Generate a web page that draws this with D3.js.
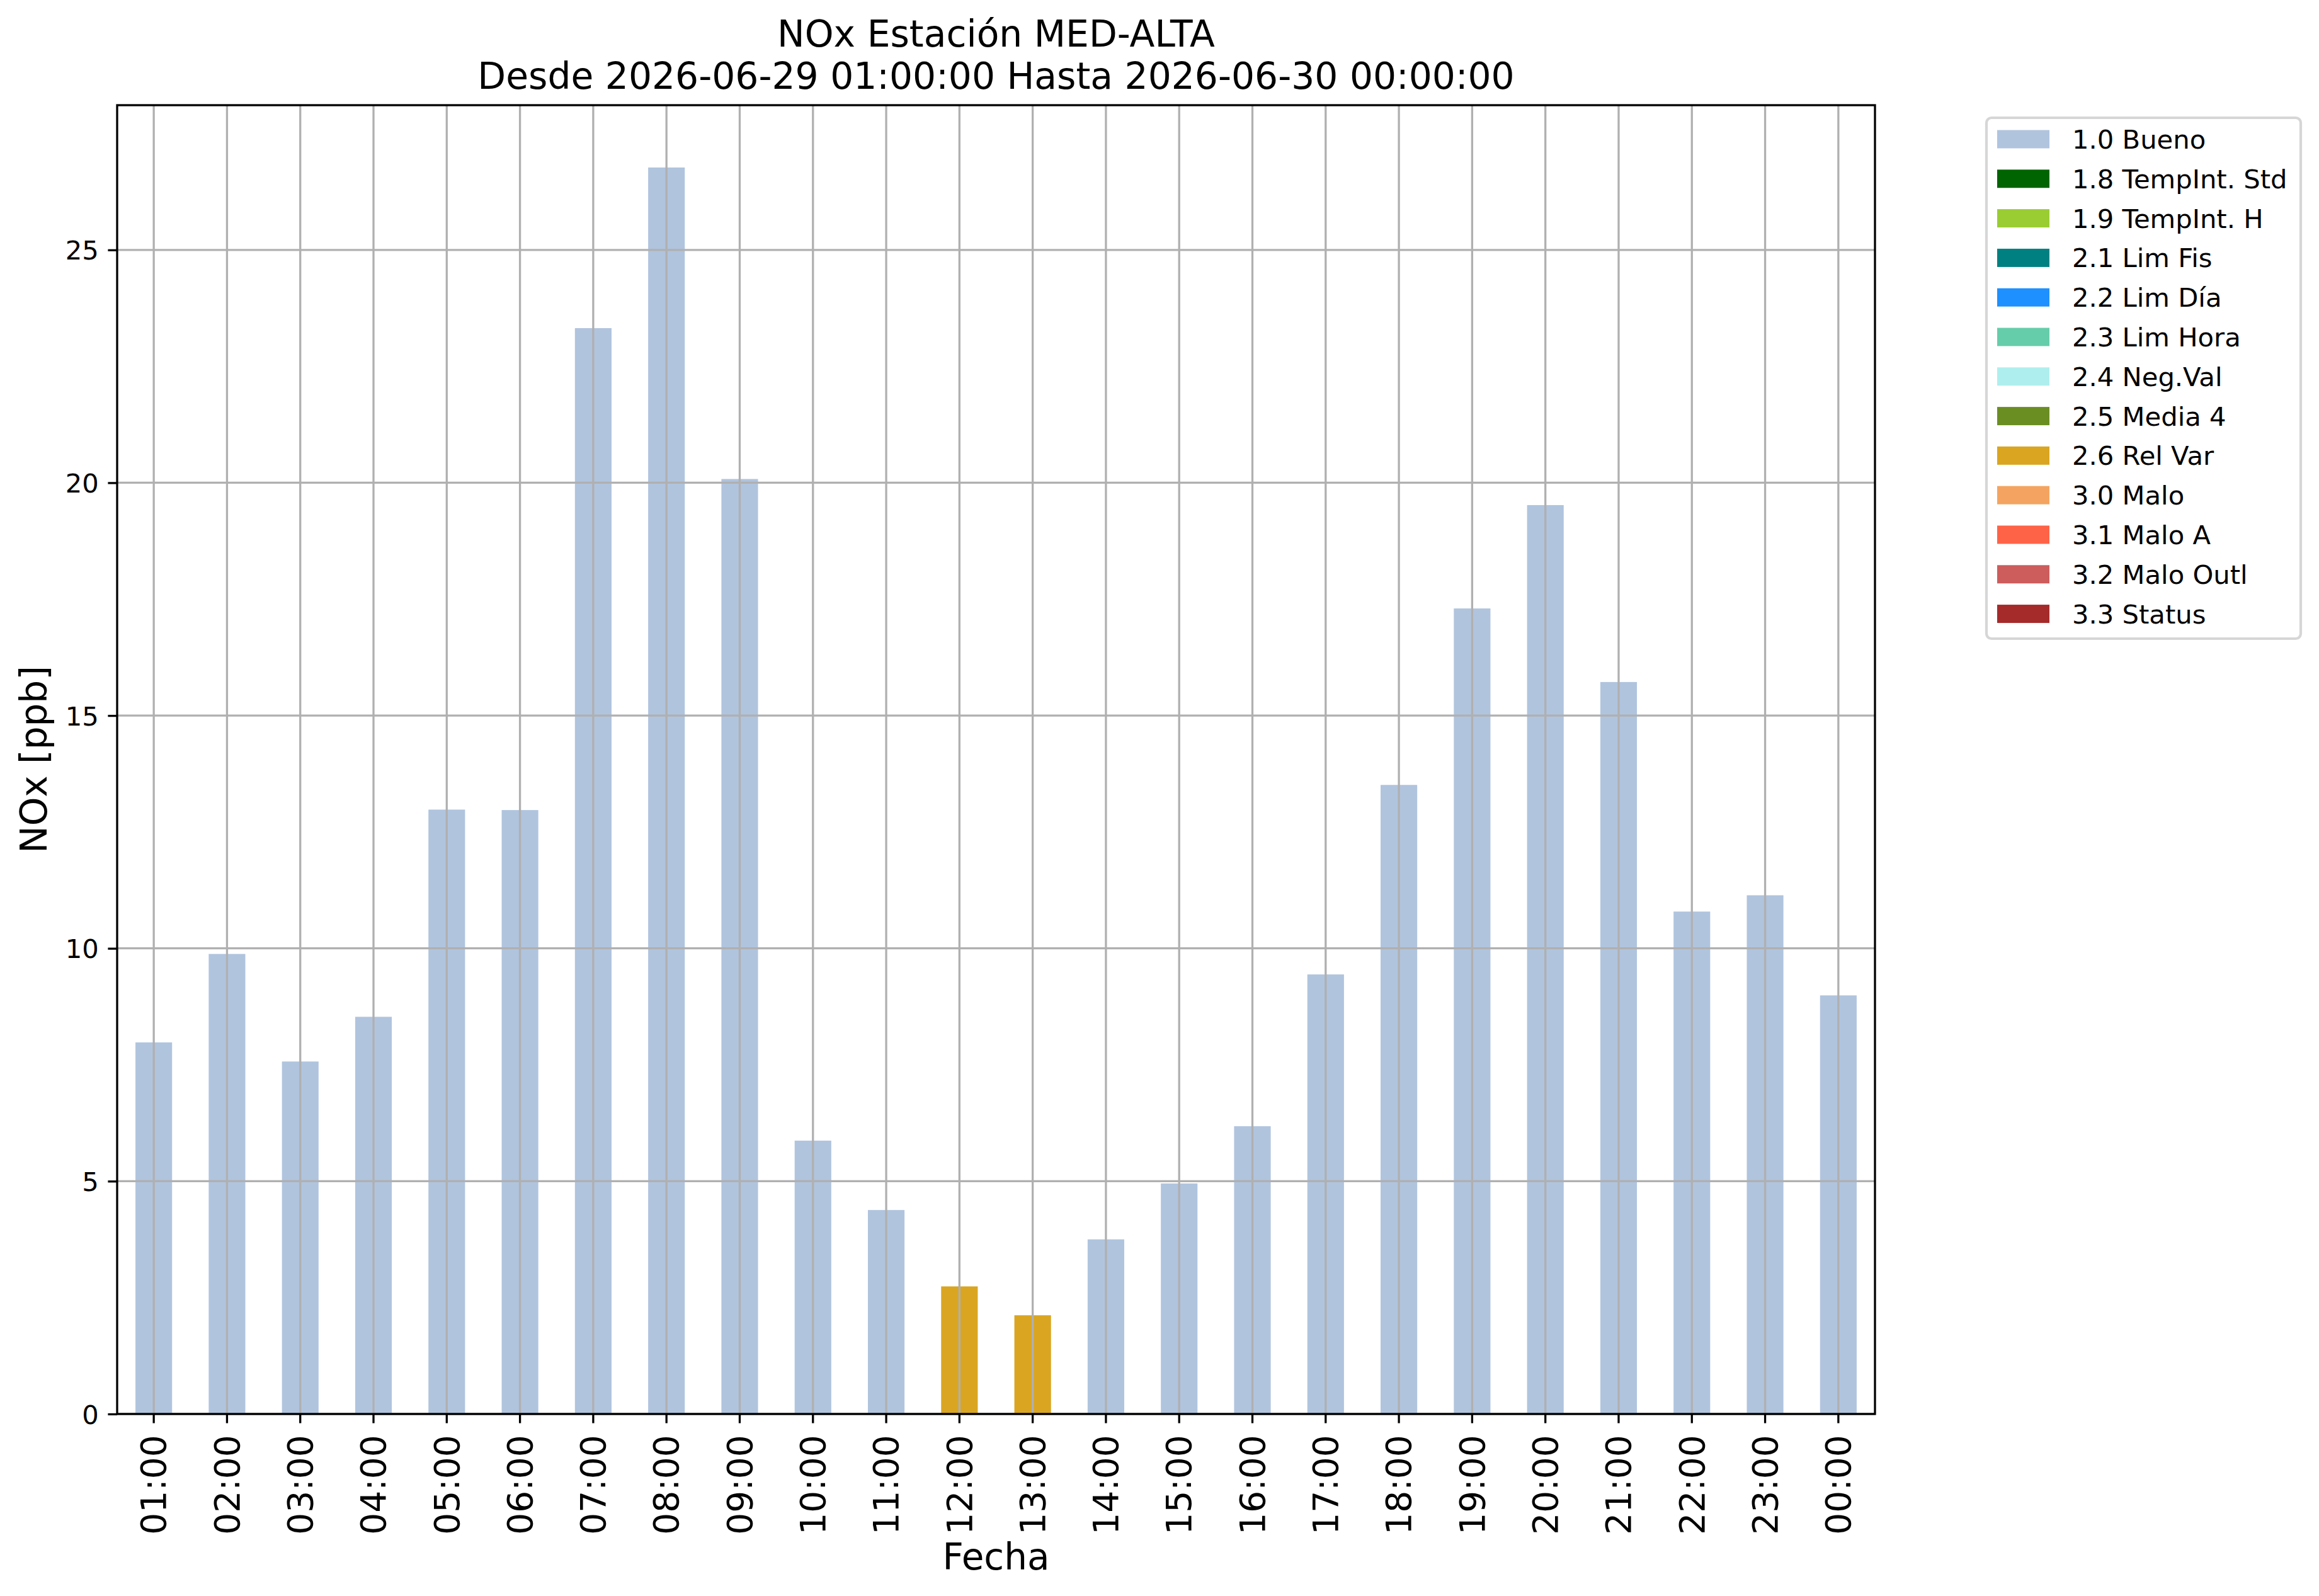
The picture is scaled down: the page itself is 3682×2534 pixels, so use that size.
<!DOCTYPE html>
<html>
<head>
<meta charset="utf-8">
<script src="https://cdn.jsdelivr.net/npm/d3@7"></script>
<style>
  html, body { margin: 0; padding: 0; background: #ffffff; }
  svg { display: block; font-family: "DejaVu Sans", sans-serif; }
</style>
</head>
<body>
<svg id="chart" width="3682" height="2534"></svg>
<script>
// ---- data ----
const hours = ["01:00","02:00","03:00","04:00","05:00","06:00","07:00","08:00","09:00","10:00","11:00","12:00",
               "13:00","14:00","15:00","16:00","17:00","18:00","19:00","20:00","21:00","22:00","23:00","00:00"];
const values = [7.98, 9.88, 7.57, 8.53, 12.98, 12.97, 23.32, 26.77, 20.08, 5.87, 4.38, 2.74,
                2.12, 3.75, 4.95, 6.18, 9.44, 13.51, 17.30, 19.52, 15.72, 10.79, 11.14, 8.99];
const flags = ["1.0 Bueno","1.0 Bueno","1.0 Bueno","1.0 Bueno","1.0 Bueno","1.0 Bueno","1.0 Bueno","1.0 Bueno",
               "1.0 Bueno","1.0 Bueno","1.0 Bueno","2.6 Rel Var","2.6 Rel Var","1.0 Bueno","1.0 Bueno","1.0 Bueno",
               "1.0 Bueno","1.0 Bueno","1.0 Bueno","1.0 Bueno","1.0 Bueno","1.0 Bueno","1.0 Bueno","1.0 Bueno"];
const legendLabels = ["1.0 Bueno","1.8 TempInt. Std","1.9 TempInt. H","2.1 Lim Fis","2.2 Lim Día","2.3 Lim Hora",
                      "2.4 Neg.Val","2.5 Media 4","2.6 Rel Var","3.0 Malo","3.1 Malo A","3.2 Malo Outl","3.3 Status"];
const legendColors = ["#B0C4DE","#006400","#9ACD32","#008080","#1E90FF","#66CDAA",
                      "#AFEEEE","#6B8E23","#DAA520","#F4A460","#FF6347","#CD5C5C","#A52A2A"];
const yTicks = [0, 5, 10, 15, 20, 25];
const titleLines = ["NOx Estación MED-ALTA", "Desde 2026-06-29 01:00:00 Hasta 2026-06-30 00:00:00"];
const xLabel = "Fecha";
const yLabel = "NOx [ppb]";

// ---- layout ----
const svg = d3.select("#chart");
const L = 186, R = 2977, T = 167, B = 2245;
const grid = "#b0b0b0", lw = 3.3;

const data = hours.map((h, i) => ({ h, v: values[i], f: flags[i] }));
const color = d3.scaleOrdinal().domain(legendLabels).range(legendColors);

const x = d3.scaleBand().domain(hours).range([L, R]).paddingInner(0.5).paddingOuter(0.25);
const yMax = d3.max(values) * 1.05;
const y = d3.scaleLinear().domain([0, yMax]).range([B, T]);

svg.append("rect").attr("width", 3682).attr("height", 2534).attr("fill", "#fff");

// bars
svg.append("g").selectAll("rect").data(data).join("rect")
  .attr("x", d => x(d.h))
  .attr("width", x.bandwidth())
  .attr("y", d => y(d.v))
  .attr("height", d => y(0) - y(d.v))
  .attr("fill", d => color(d.f));

// grid (above bars)
const gg = svg.append("g").attr("stroke", grid).attr("stroke-width", lw);
gg.selectAll("line.v").data(hours).join("line")
  .attr("x1", d => x(d) + x.bandwidth() / 2).attr("x2", d => x(d) + x.bandwidth() / 2)
  .attr("y1", T).attr("y2", B);
gg.selectAll("line.h").data(yTicks).join("line")
  .attr("x1", L).attr("x2", R).attr("y1", d => y(d)).attr("y2", d => y(d));

// axes
const tickLen = 14.6, pad = 14.6;
const yAxis = d3.axisLeft(y).tickValues(yTicks).tickSize(tickLen).tickPadding(pad).tickFormat(d3.format("d"));
const gy = svg.append("g").attr("transform", `translate(${L},0)`).call(yAxis);
gy.select(".domain").remove();
gy.selectAll(".tick line").attr("stroke", "#000").attr("stroke-width", lw);
gy.selectAll(".tick text").attr("font-size", 41.7).attr("font-family", "DejaVu Sans").attr("fill", "#000")
  .attr("dy", "0.36em");

const xAxis = d3.axisBottom(x).tickSize(tickLen).tickPadding(pad);
const gx = svg.append("g").attr("transform", `translate(0,${B})`).call(xAxis);
gx.select(".domain").remove();
gx.selectAll(".tick line").attr("stroke", "#000").attr("stroke-width", lw);
gx.selectAll(".tick text")
  .attr("font-size", 55).attr("font-family", "DejaVu Sans").attr("fill", "#000")
  .attr("text-anchor", "end")
  .attr("y", 0).attr("x", 0)
  .attr("dy", "0.35em")
  .attr("transform", `translate(0,${tickLen + pad + 4}) rotate(-90)`);

// spines
svg.append("rect").attr("x", L).attr("y", T).attr("width", R - L).attr("height", B - T)
  .attr("fill", "none").attr("stroke", "#000").attr("stroke-width", lw);

// title
svg.append("g").selectAll("text").data(titleLines).join("text")
  .attr("x", (L + R) / 2).attr("y", (d, i) => 74 + i * 67)
  .attr("text-anchor", "middle").attr("font-size", 58.3).attr("fill", "#000").text(d => d);

// axis labels
svg.append("text").attr("x", (L + R) / 2).attr("y", 2492).attr("text-anchor", "middle")
  .attr("font-size", 58).attr("fill", "#000").text(xLabel);
svg.append("text").attr("transform", `translate(74,${(T + B) / 2}) rotate(-90)`)
  .attr("text-anchor", "middle").attr("font-size", 58).attr("fill", "#000").text(yLabel);

// legend
const lg = svg.append("g");
lg.append("rect").attr("x", 3154).attr("y", 187).attr("width", 499).attr("height", 827)
  .attr("rx", 8).attr("ry", 8).attr("fill", "#fff").attr("stroke", "#d6d6d6").attr("stroke-width", 4.2);
const rows = lg.selectAll("g.row").data(legendLabels).join("g")
  .attr("transform", (d, i) => `translate(0,${221 + i * 62.8})`);
rows.append("rect").attr("x", 3171).attr("y", -14.5).attr("width", 83).attr("height", 29)
  .attr("fill", d => color(d));
rows.append("text").attr("x", 3290).attr("y", 15).attr("font-size", 41.7).attr("fill", "#000").text(d => d);
</script>
</body>
</html>
